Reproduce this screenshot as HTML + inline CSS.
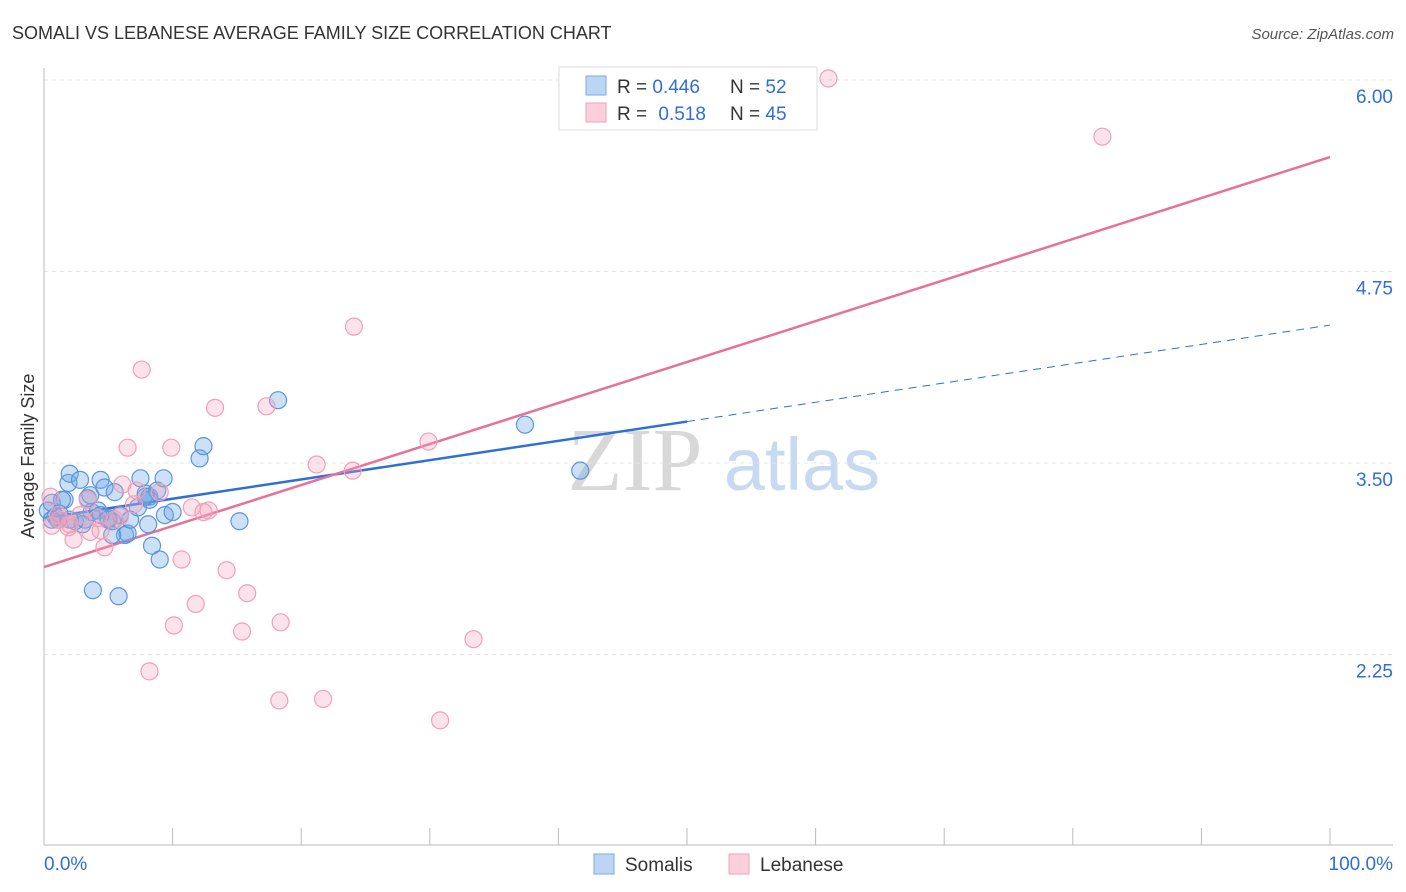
<!DOCTYPE html>
<html><head><meta charset="utf-8"><style>
body{margin:0;background:#fff;font-family:"Liberation Sans",sans-serif;}
svg{display:block}
</style></head><body>
<svg id="chart" width="1406" height="892">
<text x="12" y="39" font-size="18" fill="#333">SOMALI VS LEBANESE AVERAGE FAMILY SIZE CORRELATION CHART</text>
<text x="1394" y="39" font-size="15" fill="#555" font-style="italic" text-anchor="end">Source: ZipAtlas.com</text>
<text x="34" y="456" font-size="18" fill="#333" text-anchor="middle" transform="rotate(-90 34 456)">Average Family Size</text>
<g>
<text x="635" y="490" font-size="90" font-family="Liberation Serif,serif" fill="#d8d8d8" text-anchor="middle">ZIP</text>
<text x="802" y="490" font-size="74" fill="#c8daf2" text-anchor="middle">atlas</text>
</g>
<g id="grid"></g><g id="axes"></g><g id="lines"></g><g id="pts"></g>
<g>
<rect x="559" y="67" width="258" height="63" fill="#fff" stroke="#ddd"/>
<rect x="586" y="76" width="20" height="19" fill="#bcd5f5" stroke="#7aaae6"/>
<rect x="586" y="103" width="20" height="19" fill="#fbd0dc" stroke="#f0a0b8"/>
<text x="617" y="93" font-size="19" fill="#333">R = <tspan fill="#2f6fd6">0.446</tspan></text>
<text x="730" y="93" font-size="19" fill="#333">N = <tspan fill="#2f6fd6">52</tspan></text>
<text x="617" y="120" font-size="19" fill="#333">R = <tspan fill="#2f6fd6" dx="6">0.518</tspan></text>
<text x="730" y="120" font-size="19" fill="#333">N = <tspan fill="#2f6fd6">45</tspan></text>
</g>
<g>
<rect x="594" y="854" width="20" height="20" fill="#bcd5f5" stroke="#7aaae6"/>
<text x="625" y="871" font-size="19" fill="#333">Somalis</text>
<rect x="729" y="854" width="20" height="20" fill="#fbd0dc" stroke="#f0a0b8"/>
<text x="760" y="871" font-size="19" fill="#333">Lebanese</text>
</g>
</svg>
<script>
const yTicks=[6.00,4.75,3.50,2.25];
const yTickLabels=["6.00","4.75","3.50","2.25"];
const xTickLabels=["0.0%","100.0%"];
const somaliX=[0.3,0.6,0.9,1.2,1.6,1.9,2.0,2.4,2.8,3.0,3.4,3.7,3.8,4.4,4.2,4.7,5.0,5.3,5.5,5.8,5.9,6.3,6.5,7.3,7.5,7.9,8.1,8.2,8.4,8.8,9.0,9.3,9.4,10.0,12.1,12.4,15.2,18.2,37.4,41.7,5.3,6.7,1.1,1.4,3.2,4.4,8.2,5.0,2.0,7.9,0.6,3.6];
const somaliY=[3.19,3.24,3.15,3.17,3.26,3.37,3.43,3.12,3.39,3.10,3.27,3.18,2.67,3.39,3.19,3.34,3.14,3.12,3.31,2.63,3.16,3.03,3.04,3.21,3.40,3.30,3.10,3.28,2.96,3.32,2.87,3.40,3.16,3.18,3.53,3.61,3.12,3.91,3.75,3.45,3.03,3.13,3.13,3.26,3.13,3.16,3.26,3.13,3.13,3.28,3.13,3.29];
const lebX=[61.0,82.3,24.1,7.6,13.3,17.3,6.5,9.9,29.9,21.2,24.0,6.1,9.0,7.2,3.4,11.5,12.4,12.8,7.0,0.5,0.6,1.2,1.9,2.3,2.8,3.6,4.2,4.7,5.5,10.7,14.2,15.8,11.8,10.1,15.4,18.4,33.4,8.2,18.3,21.7,30.8,2.0,1.1,4.4,5.9];
const lebY=[6.01,5.63,4.39,4.11,3.86,3.87,3.60,3.60,3.64,3.49,3.45,3.36,3.31,3.32,3.26,3.21,3.18,3.19,3.23,3.28,3.09,3.13,3.08,3.00,3.16,3.05,3.14,2.95,3.13,2.87,2.80,2.65,2.58,2.44,2.40,2.46,2.35,2.14,1.95,1.96,1.82,3.10,3.16,3.06,3.15];
const somaliTrend=[3.141,4.40]; // y at x=0 and x=100
const somaliSolidEnd=50;
const lebTrend=[2.821,5.497];
const NS="http://www.w3.org/2000/svg";
const X=v=>44+v/100*1286;
const Y=v=>80+(6-v)/1.25*191.5;
function mk(t,a,p){const e=document.createElementNS(NS,t);for(const k in a)e.setAttribute(k,a[k]);document.getElementById(p).appendChild(e);return e;}
yTicks.forEach((t,i)=>{
 const l=mk('line',{x1:44,x2:1393,y1:Y(t),y2:Y(t),stroke:'#e4e4e4','stroke-dasharray':'4,4'},'grid');
 
 
 const tx=mk('text',{x:1393,y:Y(t)+23,'font-size':19,fill:'#2f6fd6','text-anchor':'end'},'grid');
 tx.textContent=yTickLabels[i];
 
 
});
let ax=mk('line',{x1:44,x2:44,y1:68,y2:845,stroke:'#bbb'},'axes');


ax=mk('line',{x1:44,x2:1393,y1:845,y2:845,stroke:'#bbb'},'axes');


for(let i=1;i<=10;i++){const t=mk('line',{x1:X(i*10),x2:X(i*10),y1:828,y2:845,stroke:'#bbb'},'axes');
 
 }
let xl=mk('text',{x:44,y:870,'font-size':19,fill:'#2f6fd6'},'axes');xl.textContent=xTickLabels[0];


xl=mk('text',{x:1393,y:870,'font-size':19,fill:'#2f6fd6','text-anchor':'end'},'axes');xl.textContent=xTickLabels[1];


const sy=x=>somaliTrend[0]+(somaliTrend[1]-somaliTrend[0])*x/100;
let ln=mk('line',{x1:X(0),y1:Y(sy(0)),x2:X(somaliSolidEnd),y2:Y(sy(somaliSolidEnd)),stroke:'#2f6fd6','stroke-width':2.5},'lines');


ln=mk('line',{x1:X(somaliSolidEnd),y1:Y(sy(somaliSolidEnd)),x2:X(100),y2:Y(sy(100)),stroke:'#2f6fd6','stroke-width':1,'stroke-dasharray':'8,6'},'lines');


ln=mk('line',{x1:X(0),y1:Y(lebTrend[0]),x2:X(100),y2:Y(lebTrend[1]),stroke:'#e8709a','stroke-width':2.5},'lines');


somaliX.forEach((x,i)=>{const c=mk('circle',{cx:X(x),cy:Y(somaliY[i]),r:8.5,fill:'rgba(110,165,230,0.35)',stroke:'#5b95dd','stroke-width':1.2},'pts');
 
 });
lebX.forEach((x,i)=>{const c=mk('circle',{cx:X(x),cy:Y(lebY[i]),r:8.5,fill:'rgba(245,160,185,0.3)',stroke:'#f0a0b8','stroke-width':1.2},'pts');
 
 });
</script>
</body></html>
